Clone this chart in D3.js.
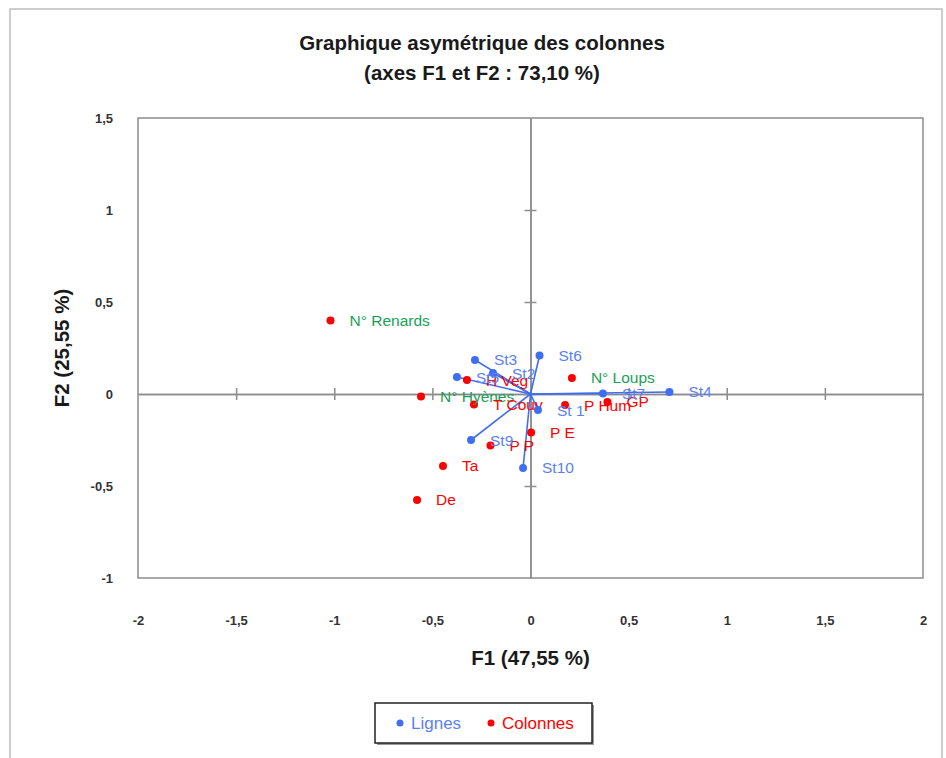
<!DOCTYPE html>
<html lang="fr">
<head>
<meta charset="utf-8">
<script src="https://cdn.jsdelivr.net/npm/d3@7"></script>
<style>
  html, body { margin: 0; padding: 0; background: #fff; }
  svg { display: block; }
  text { font-family: "Liberation Sans", "DejaVu Sans", sans-serif; }
</style>
</head>
<body>
<svg id="chart" width="946" height="758"></svg>
<script>
// Lignes (stations): coordinates on F1 / F2
const rowLabels = ["St 1", "St2", "St3", "St4", "St5", "St6", "St7", "St9", "St10"];
const rowF1 = [0.038, -0.191, -0.283, 0.708, -0.375, 0.046, 0.369, -0.303, -0.038];
const rowF2 = [-0.087, 0.114, 0.185, 0.011, 0.092, 0.209, 0.003, -0.250, -0.402];

// Colonnes (variables): coordinates on F1 / F2
const colLabels = ["N° Renards", "N° Loups", "N° Hyènes", "H Veg", "T Couv", "P Hum", "GP", "P E", "P P", "Ta", "De"];
const colF1 = [-1.019, 0.211, -0.558, -0.324, -0.288, 0.176, 0.392, 0.003, -0.204, -0.446, -0.578];
const colF2 = [0.399, 0.087, -0.014, 0.076, -0.057, -0.060, -0.043, -0.209, -0.280, -0.391, -0.576];

// Count variables get their own label colour
const countVars = ["N° Renards", "N° Loups", "N° Hyènes"];

const xTicks = [-2, -1.5, -1, -0.5, 0, 0.5, 1, 1.5, 2];
const yTicks = [-1, -0.5, 0, 0.5, 1, 1.5];

const titleLines = ["Graphique asymétrique  des colonnes", "(axes F1 et F2 : 73,10 %)"];
const xTitle = "F1 (47,55 %)";
const yTitle = "F2 (25,55 %)";
const legendItems = ["Lignes", "Colonnes"];

const BLUE = "#3f6ef2", BLUE_TXT = "#5b80f6", RED = "#ff0000", GREEN = "#1a9f55";

const svg = d3.select("#chart");
const plot = { left: 138, right: 923, top: 118, bottom: 578 };

const x = d3.scaleLinear().domain([-2, 2]).range([plot.left, plot.right]);
const y = d3.scaleLinear().domain([-1, 1.5]).range([plot.bottom, plot.top]);

const fr = d3.formatLocale({ decimal: ",", thousands: " ", grouping: [3], currency: ["", " €"], minus: "-" });
const fmt = fr.format("~g");

// Outer chart frame
svg.append("rect").attr("x", 10).attr("y", 9).attr("width", 932).attr("height", 780)
  .attr("fill", "none").attr("stroke", "#bdbdbd").attr("stroke-width", 1.5);

// Title
svg.append("g").selectAll("text").data(titleLines).join("text")
  .attr("x", 482).attr("y", (d, i) => 50 + i * 30)
  .attr("text-anchor", "middle").attr("font-size", 20.5).attr("font-weight", "bold")
  .attr("fill", "#1a1a1a").text(d => d);

// Plot border
svg.append("rect").attr("x", plot.left).attr("y", plot.top)
  .attr("width", plot.right - plot.left).attr("height", plot.bottom - plot.top)
  .attr("fill", "none").attr("stroke", "#8c8c8c").attr("stroke-width", 1.5);

// Tick labels on the outer sides
const gx = svg.append("g").attr("transform", `translate(0,${plot.bottom + 35})`)
  .call(d3.axisBottom(x).tickValues(xTicks).tickSize(0).tickFormat(fmt));
gx.select(".domain").remove();
const gy = svg.append("g").attr("transform", `translate(${plot.left - 22},0)`)
  .call(d3.axisLeft(y).tickValues(yTicks).tickSize(0).tickFormat(fmt));
gy.select(".domain").remove();
svg.selectAll(".tick text").attr("font-size", 13).attr("font-weight", "bold")
  .attr("fill", "#333");
gy.selectAll(".tick text").attr("dy", "0.32em");

// Axes through the origin with crossing tick marks
const innerX = xTicks.filter(d => d > -2 && d < 2);
const innerY = yTicks.filter(d => d > -1 && d < 1.5);
[d3.axisBottom, d3.axisTop].forEach(ax => {
  svg.append("g").attr("class", "origin-axis").attr("transform", `translate(0,${y(0)})`)
    .call(ax(x).tickValues(innerX).tickSize(6).tickSizeOuter(0).tickFormat(""));
});
[d3.axisLeft, d3.axisRight].forEach(ax => {
  svg.append("g").attr("class", "origin-axis").attr("transform", `translate(${x(0)},0)`)
    .call(ax(y).tickValues(innerY).tickSize(6).tickSizeOuter(0).tickFormat(""));
});
svg.selectAll(".origin-axis path, .origin-axis line").attr("stroke", "#8c8c8c").attr("stroke-width", 1.5);

const rows = rowLabels.map((l, i) => ({ label: l, f1: rowF1[i], f2: rowF2[i] }));
const cols = colLabels.map((l, i) => ({ label: l, f1: colF1[i], f2: colF2[i] }));

// Vectors from the origin to each station
svg.append("g").selectAll("line").data(rows).join("line")
  .attr("x1", x(0)).attr("y1", y(0))
  .attr("x2", d => x(d.f1)).attr("y2", d => y(d.f2))
  .attr("stroke", BLUE).attr("stroke-width", 1.6);

// Column points and labels
svg.append("g").selectAll("circle").data(cols).join("circle")
  .attr("cx", d => x(d.f1)).attr("cy", d => y(d.f2)).attr("r", 4)
  .attr("fill", RED);
svg.append("g").selectAll("text").data(cols).join("text")
  .attr("x", d => x(d.f1) + 19).attr("y", d => y(d.f2) + 5.5)
  .attr("font-size", 15.5)
  .attr("fill", d => countVars.includes(d.label) ? GREEN : RED)
  .text(d => d.label);

// Row points and labels
svg.append("g").selectAll("circle").data(rows).join("circle")
  .attr("cx", d => x(d.f1)).attr("cy", d => y(d.f2)).attr("r", 4)
  .attr("fill", BLUE);
svg.append("g").selectAll("text").data(rows).join("text")
  .attr("x", d => x(d.f1) + 19).attr("y", d => y(d.f2) + 5.5)
  .attr("font-size", 15.5).attr("fill", BLUE_TXT)
  .text(d => d.label);

// Axis titles
svg.append("text").attr("x", x(0)).attr("y", 665).attr("text-anchor", "middle")
  .attr("font-size", 20.5).attr("font-weight", "bold").attr("fill", "#1a1a1a").text(xTitle);
svg.append("text").attr("transform", `translate(69,348) rotate(-90)`)
  .attr("text-anchor", "middle").attr("font-size", 20.5).attr("font-weight", "bold")
  .attr("fill", "#1a1a1a").text(yTitle);

// Legend
const lg = svg.append("g").attr("transform", "translate(375,703)");
lg.append("rect").attr("x", 2).attr("y", 2).attr("width", 217).attr("height", 40).attr("fill", "#9a9a9a");
lg.append("rect").attr("width", 217).attr("height", 40).attr("fill", "#fff")
  .attr("stroke", "#222").attr("stroke-width", 1.5);
const legendColors = [BLUE, RED];
const legendText = [BLUE_TXT, RED];
const legendX = [25, 116];
legendItems.forEach((name, i) => {
  lg.append("circle").attr("cx", legendX[i]).attr("cy", 20).attr("r", 3.5).attr("fill", legendColors[i]);
  lg.append("text").attr("x", legendX[i] + 11).attr("y", 26).attr("font-size", 17)
    .attr("fill", legendText[i]).text(name);
});
</script>
</body>
</html>
